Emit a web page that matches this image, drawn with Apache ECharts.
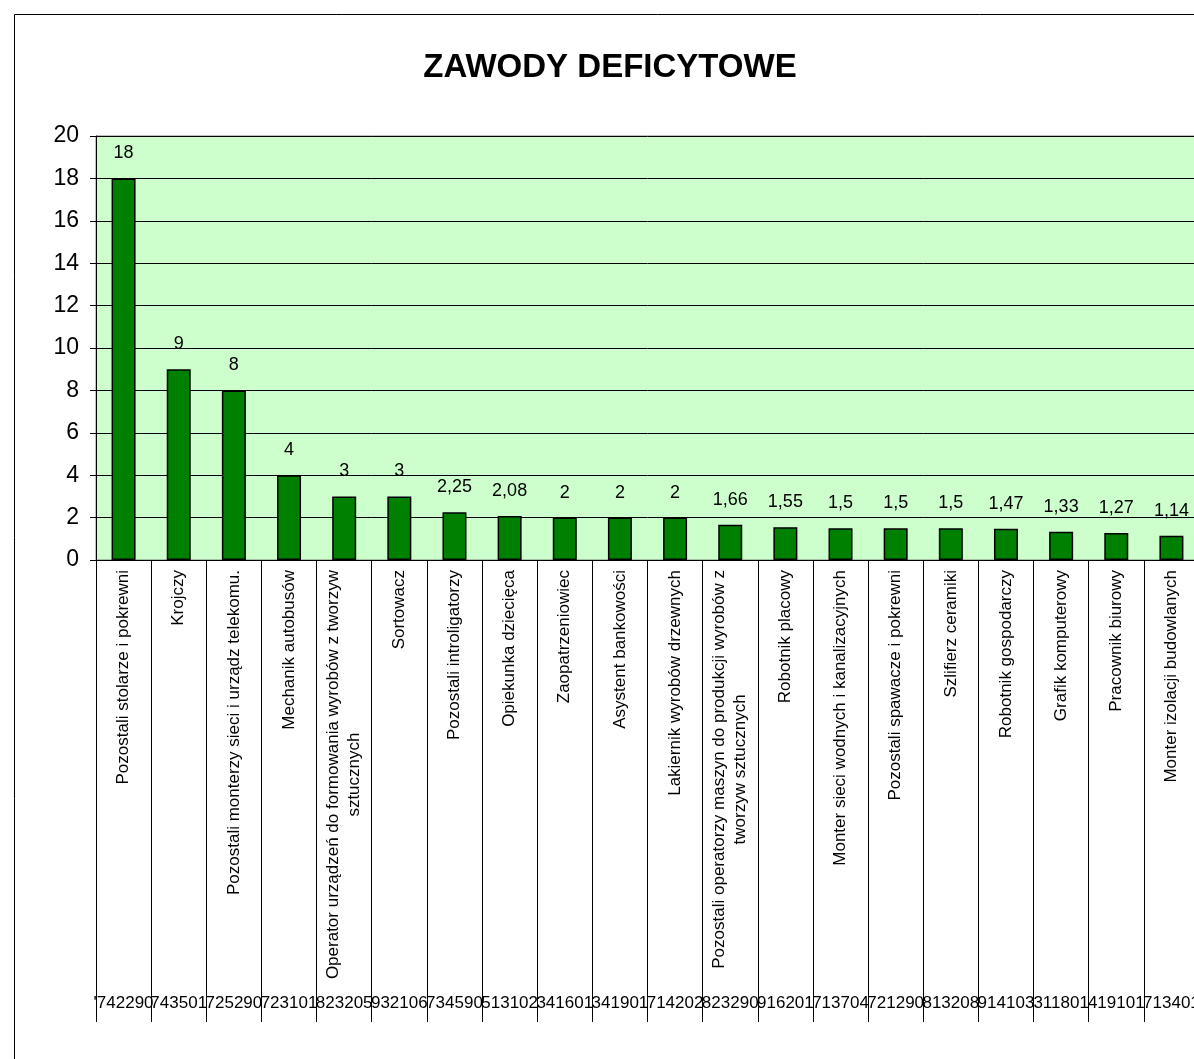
<!DOCTYPE html>
<html>
<head>
<meta charset="utf-8">
<script src="https://cdn.jsdelivr.net/npm/echarts@6/dist/echarts.min.js"></script>
<style>
html, body { margin: 0; padding: 0; background: #fff; overflow: hidden; }
#chart { width: 1300px; height: 1059px; }
</style>
</head>
<body>
<div id="chart"></div>
<script>
// nazwy zawodów (oś kategorii)
const categories = [
  'Pozostali stolarze i pokrewni',
  'Krojczy',
  'Pozostali monterzy sieci i urządz telekomu.',
  'Mechanik autobusów',
  'Operator urządzeń do formowania wyrobów z tworzyw\nsztucznych',
  'Sortowacz',
  'Pozostali introligatorzy',
  'Opiekunka dziecięca',
  'Zaopatrzeniowiec',
  'Asystent bankowości',
  'Lakiernik wyrobów drzewnych',
  'Pozostali operatorzy maszyn do produkcji wyrobów z\ntworzyw sztucznych',
  'Robotnik placowy',
  'Monter sieci wodnych i kanalizacyjnych',
  'Pozostali spawacze i pokrewni',
  'Szlifierz ceramiki',
  'Robotnik gospodarczy',
  'Grafik komputerowy',
  'Pracownik biurowy',
  'Monter izolacji budowlanych'
]
// kody zawodów (druga linia opisu osi)
const codes = [
  "'742290", '743501', '725290', '723101', '823205', '932106', '734590',
  '513102', '341601', '341901', '714202', '823290', '916201', '713704',
  '721290', '813208', '914103', '311801', '419101', '713401'
]
// wskaźnik deficytu
const values = [18, 9, 8, 4, 3, 3, 2.25, 2.08, 2, 2, 2, 1.66, 1.55, 1.5, 1.5, 1.5, 1.47, 1.33, 1.27, 1.14]
const yTicks = { min: 0, max: 20, interval: 2 }

const font = '"Liberation Sans", Arial, sans-serif'
const chart = echarts.init(document.getElementById('chart'))

const option = {
  animation: false,
  title: {
    text: 'ZAWODY DEFICYTOWE',
    left: 605,
    textAlign: 'center',
    top: 46,
    textStyle: { fontFamily: font, fontSize: 33, fontWeight: 'bold', color: '#000' }
  },
  graphic: [
    {
      type: 'rect',
      shape: { x: 14.5, y: 14.5, width: 1400, height: 1200 },
      style: { fill: 'none', stroke: '#000', lineWidth: 1 },
      silent: true
    }
  ],
  grid: {
    left: 96,
    top: 136,
    width: 1103,
    bottom: 499,
    show: true,
    backgroundColor: '#CCFFCC',
    borderColor: '#808080',
    borderWidth: 1
  },
  xAxis: [
    {
      type: 'category',
      data: categories,
      axisLine: { show: true, lineStyle: { color: '#000', width: 1 } },
      axisTick: { show: true, interval: 0, length: 462, lineStyle: { color: '#000', width: 1 } },
      axisLabel: {
        interval: 0,
        rotate: 90,
        margin: 10,
        color: '#000',
        fontFamily: font,
        fontSize: 17,
        formatter: (v) => v.split('\n').map((l) => '{c|' + l + '}').join('\n'),
        rich: {
          c: { align: 'center', fontFamily: font, fontSize: 17, lineHeight: 21, color: '#000' }
        }
      }
    },
    {
      type: 'category',
      data: codes,
      position: 'bottom',
      offset: 427,
      axisLine: { show: false },
      axisTick: { show: false },
      axisLabel: {
        interval: 0,
        margin: 8,
        color: '#000',
        fontFamily: font,
        fontSize: 17
      }
    }
  ],
  yAxis: {
    type: 'value',
    min: yTicks.min,
    max: yTicks.max,
    interval: yTicks.interval,
    axisLine: { show: true, lineStyle: { color: '#000' } },
    axisTick: { show: true, length: 6, lineStyle: { color: '#000' } },
    axisLabel: { color: '#000', fontFamily: font, fontSize: 23, margin: 17 },
    splitLine: { lineStyle: { color: '#000', width: 1 } }
  },
  series: [
    {
      type: 'bar',
      xAxisIndex: 0,
      data: values,
      barWidth: 24,
      itemStyle: { color: '#008000', borderColor: '#000', borderWidth: 1.5 },
      label: {
        show: true,
        position: 'top',
        distance: 16,
        color: '#000',
        fontFamily: font,
        fontSize: 18,
        formatter: (p) => String(p.value).replace('.', ',')
      }
    }
  ]
}
chart.setOption(option)
</script>
</body>
</html>
